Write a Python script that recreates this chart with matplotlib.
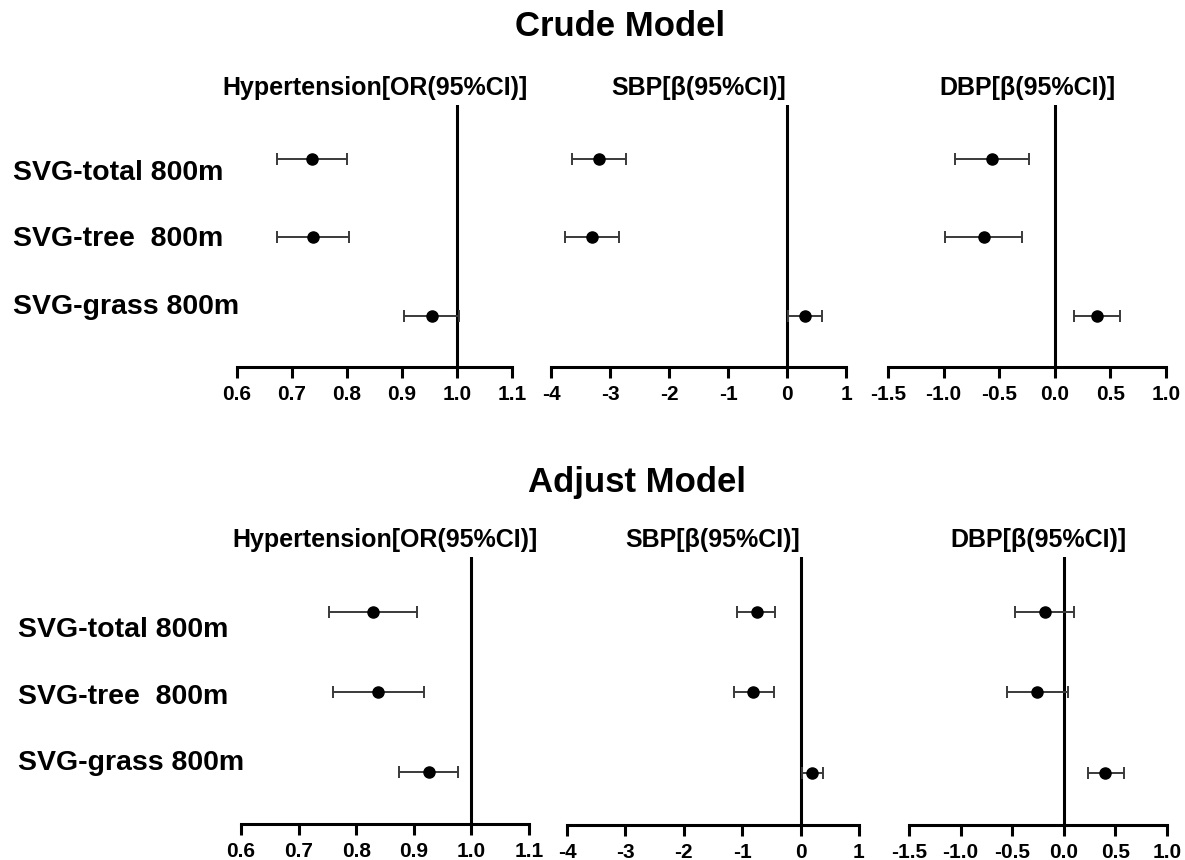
import matplotlib
matplotlib.use("Agg")
import matplotlib.pyplot as plt

plt.rcParams['font.family'] = ['Liberation Sans', 'DejaVu Sans']
plt.rcParams['font.weight'] = 'bold'
plt.rcParams['axes.unicode_minus'] = False

# data
row_labels = ['SVG-total 800m', 'SVG-tree  800m', 'SVG-grass 800m']
panel_titles = ['Hypertension[OR(95%CI)]', 'SBP[β(95%CI)]', 'DBP[β(95%CI)]']

# crude model
crude_or = [0.736, 0.738, 0.954]
crude_or_lo = [0.673, 0.673, 0.904]
crude_or_hi = [0.800, 0.804, 1.004]
crude_sbp = [-3.19, -3.31, 0.30]
crude_sbp_lo = [-3.64, -3.76, 0.02]
crude_sbp_hi = [-2.73, -2.85, 0.59]
crude_dbp = [-0.563, -0.635, 0.383]
crude_dbp_lo = [-0.896, -0.986, 0.176]
crude_dbp_hi = [-0.230, -0.293, 0.590]

# adjusted model
adj_or = [0.830, 0.838, 0.926]
adj_or_lo = [0.753, 0.760, 0.875]
adj_or_hi = [0.906, 0.918, 0.977]
adj_sbp = [-0.75, -0.82, 0.19]
adj_sbp_lo = [-1.09, -1.14, 0.02]
adj_sbp_hi = [-0.43, -0.46, 0.38]
adj_dbp = [-0.18, -0.26, 0.40]
adj_dbp_lo = [-0.47, -0.55, 0.23]
adj_dbp_hi = [0.10, 0.04, 0.58]

or_ticks = [0.6, 0.7, 0.8, 0.9, 1.0, 1.1]
or_ticklabels = ['0.6', '0.7', '0.8', '0.9', '1.0', '1.1']
sbp_ticks = [-4, -3, -2, -1, 0, 1]
sbp_ticklabels = ['-4', '-3', '-2', '-1', '0', '1']
dbp_ticks = [-1.5, -1.0, -0.5, 0.0, 0.5, 1.0]
dbp_ticklabels = ['-1.5', '-1.0', '-0.5', '0.0', '0.5', '1.0']

W, H = 1185, 860
fig = plt.figure(figsize=(W / 100, H / 100), dpi=100)


def px_axes(x0, x1, ytop, ybot):
    return fig.add_axes([x0 / W, 1 - ybot / H, (x1 - x0) / W, (ybot - ytop) / H])


def forest(ax, est, lo, hi, ticks, ticklabels, ref, title):
    ypos = [3, 2, 1]
    xerr = [[e - l for e, l in zip(est, lo)], [h - e for e, h in zip(est, hi)]]
    ax.axvline(ref, color='black', lw=2.2, zorder=1)
    ax.errorbar(est, ypos, xerr=xerr, fmt='o', color='black', ms=8,
                ecolor='#3a3a3a', elinewidth=1.4, capsize=4.5, capthick=1.4, zorder=3)
    ax.set_xlim(ticks[0], ticks[-1])
    ax.set_ylim(0.35, 3.68)
    ax.set_xticks(ticks)
    ax.set_xticklabels(ticklabels, fontsize=15, fontweight='bold')
    ax.set_yticks([])
    for s in ['top', 'right', 'left']:
        ax.spines[s].set_visible(False)
    ax.spines['bottom'].set_linewidth(2.2)
    ax.tick_params(axis='x', direction='out', length=8, width=2.2, pad=5)
    ax.set_title(title, fontsize=18, fontweight='bold', pad=7)


# top row (crude)
ax1 = px_axes(237, 512, 105, 367)
forest(ax1, crude_or, crude_or_lo, crude_or_hi, or_ticks, or_ticklabels, 1.0, panel_titles[0])
ax2 = px_axes(551, 846, 105, 367)
forest(ax2, crude_sbp, crude_sbp_lo, crude_sbp_hi, sbp_ticks, sbp_ticklabels, 0, panel_titles[1])
ax3 = px_axes(888, 1166, 105, 367)
forest(ax3, crude_dbp, crude_dbp_lo, crude_dbp_hi, dbp_ticks, dbp_ticklabels, 0, panel_titles[2])

# bottom row (adjusted)
ax4 = px_axes(241, 529, 557, 824)
forest(ax4, adj_or, adj_or_lo, adj_or_hi, or_ticks, or_ticklabels, 1.0, panel_titles[0])
ax5 = px_axes(567, 859, 557, 825)
forest(ax5, adj_sbp, adj_sbp_lo, adj_sbp_hi, sbp_ticks, sbp_ticklabels, 0, panel_titles[1])
ax6 = px_axes(909, 1167, 557, 825)
forest(ax6, adj_dbp, adj_dbp_lo, adj_dbp_hi, dbp_ticks, dbp_ticklabels, 0, panel_titles[2])

# row labels
for lab, y in zip(row_labels, [173, 239, 307]):
    fig.text(13 / W, 1 - y / H, lab, fontsize=20.5, fontweight='bold', va='center', ha='left')
for lab, y in zip(row_labels, [630, 697, 763]):
    fig.text(18 / W, 1 - y / H, lab, fontsize=20.5, fontweight='bold', va='center', ha='left')

fig.text(620 / W, 1 - 26 / H, 'Crude Model', fontsize=25, fontweight='bold', ha='center', va='center')
fig.text(637 / W, 1 - 483 / H, 'Adjust Model', fontsize=25, fontweight='bold', ha='center', va='center')

fig.savefig('out.png', dpi=100)
